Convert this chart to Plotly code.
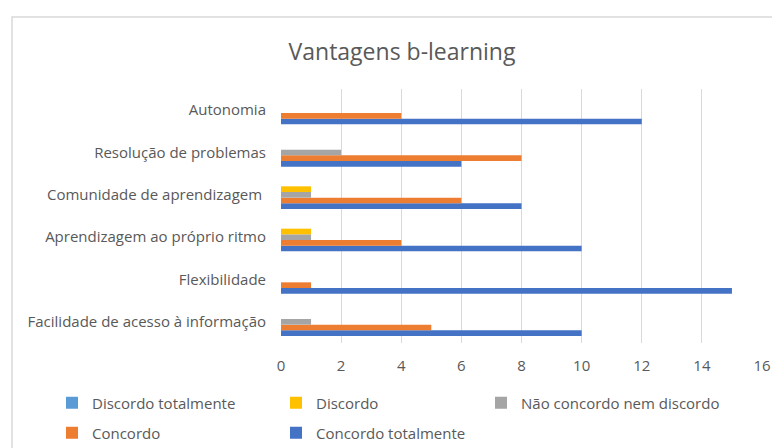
import plotly.graph_objects as go

categories = ["Facilidade de acesso à informação", "Flexibilidade", "Aprendizagem ao próprio ritmo",
              "Comunidade de aprendizagem ", "Resolução de problemas", "Autonomia"]
discordo_totalmente = [0, 0, 0, 0, 0, 0]
discordo = [0, 0, 1, 1, 0, 0]
neutro = [1, 0, 1, 1, 2, 0]
concordo = [5, 1, 4, 6, 8, 4]
concordo_totalmente = [10, 15, 10, 8, 6, 12]
x_ticks = [0, 2, 4, 6, 8, 10, 12, 14, 16]

OFF = 8  # page body margin offset
W, H = 780, 448

# (name, values, colour, legend id, legend text position in page px (text start x, row centre y))
series = [
    ("Concordo totalmente", concordo_totalmente, "#4472C4", "legend5", (316, 433)),
    ("Concordo", concordo, "#ED7D31", "legend4", (92, 433)),
    ("Não concordo nem discordo", neutro, "#A5A5A5", "legend3", (521, 403)),
    ("Discordo", discordo, "#FFC000", "legend2", (316, 403)),
    ("Discordo totalmente", discordo_totalmente, "#5B9BD5", "legend", (92, 403)),
]

font_color = "#595959"
FONT = "Open Sans"

fig = go.Figure()
legends = {}
for name, vals, color, leg, (lx, ly) in series:
    fig.add_trace(go.Bar(y=categories, x=vals, name=name, orientation="h", showlegend=True,
                         marker=dict(color=color, line=dict(width=0)), legend=leg))
    legends[leg] = dict(orientation="h", xref="container", yref="container",
                        x=(lx - 40 - OFF) / W, y=1 - (ly - OFF) / H, xanchor="left", yanchor="middle",
                        bgcolor="rgba(0,0,0,0)", borderwidth=0, itemwidth=30,
                        font=dict(family=FONT, size=15, color=font_color))

# plot area in page pixels
PL, PR, PT, PB = 281, 762, 89, 343
fl, fr, ft, fb = PL - OFF, PR - OFF, PT - OFF, PB - OFF
pw, ph = fr - fl, fb - ft

fig.update_layout(
    width=W, height=H, showlegend=True,
    margin=dict(l=fl, r=W - fr, t=ft, b=H - fb, autoexpand=False),
    paper_bgcolor="white", plot_bgcolor="white",
    title=dict(text="Vantagens b-learning", x=(402 - OFF)/W, xanchor="center", y=1-(52 - OFF)/H,
               yanchor="middle", font=dict(family=FONT, size=23, color=font_color)),
    barmode="group", bargap=0.33, bargroupgap=0,
    xaxis=dict(range=[0, 16], tickvals=x_ticks, showgrid=True, gridcolor="#d9d9d9", gridwidth=1,
               zeroline=False, showline=False, ticks="", ticklabelstandoff=12,
               tickfont=dict(family=FONT, size=15, color=font_color), fixedrange=True),
    yaxis=dict(showgrid=False, zeroline=False, showline=False, ticks="", ticklabelstandoff=14,
               tickfont=dict(family=FONT, size=15, color=font_color), fixedrange=True),
    shapes=[dict(type="rect", xref="paper", yref="paper",
                 x0=(12 - OFF - fl)/pw, x1=(800 - fl)/pw,
                 y0=(fb - 470)/ph, y1=(fb - (17 - OFF))/ph,
                 line=dict(color="#d9d9d9", width=1.5), fillcolor="rgba(0,0,0,0)", layer="below")],
    **legends,
)

fig.write_html("out.html")
